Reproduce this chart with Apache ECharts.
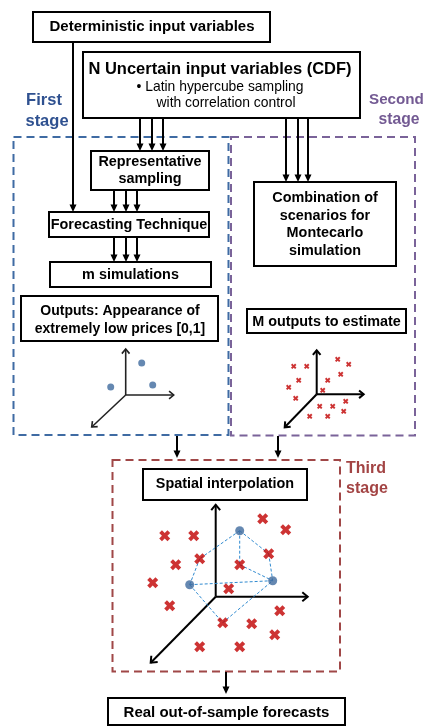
<!DOCTYPE html>
<html><head><meta charset="utf-8">
<script src="https://cdn.jsdelivr.net/npm/echarts@6/dist/echarts.min.js"></script>
<style>html,body{margin:0;padding:0;background:#fff}#c{width:425px;height:727px}</style>
</head><body><div id="c"></div>
<script>
// ---------------- data ----------------
// Stage 1 sketch: outputs in [0,1] (blue dots), local units relative to axes origin
const stage1Dots = [[16,32],[-15,8],[27,10]];
const stage1Axes = [[0,46],[48,0],[-34,-32]];
// Stage 2 sketch: M outputs to estimate (red crosses)
const stage2Crosses = [[21,35],[32,30],[-23,28],[-10,28],[24,20],[-18,14],[11,14],[-28,7],[6,4],[-21,-4],[29,-7],[3,-12],[16,-12],[27,-17],[-7,-22],[11,-22]];
const stage2Axes = [[0,44],[47,0],[-32,-33]];
// Stage 3 sketch: spatial interpolation
const stage3Crosses = [[47,78],[70,67],[-51,61],[-22,61],[53,43],[-16,38],[-40,32],[24,32],[-63,14],[13,8],[-46,-9],[64,-14],[7,-26],[36,-27],[59,-38],[-16,-50],[24,-50]];
const stage3Dots = [[24,66],[-26,12],[57,16]];
const stage3Axes = [[0,92],[92,0],[-65,-66]];
// mesh edges: D = dot index, X = cross index
const stage3Edges = [['D0','X5'],['X5','D1'],['D0','X4'],['X4','D2'],['D0','X7'],['X7','D2'],['D1','D2'],['D1','X12'],['X12','D2']];

// texts
const labelDeterministic = 'Deterministic input variables';
const labelUncertain = 'N Uncertain input variables (CDF)';
const labelUncertainSub = ['• Latin hypercube sampling', 'with correlation control'];
const labelRepr = ['Representative', 'sampling'];
const labelForecast = 'Forecasting Technique';
const labelMsim = 'm simulations';
const labelOutputs = ['Outputs: Appearance of', 'extremely low prices [0,1]'];
const labelCombination = ['Combination of', 'scenarios for', 'Montecarlo', 'simulation'];
const labelMout = 'M outputs to estimate';
const labelSpatial = 'Spatial interpolation';
const labelReal = 'Real out-of-sample forecasts';
const stageLabels = [['First','stage'],['Second','stage'],['Third','stage']];

// ---------------- styles / layout ----------------
const FONT = '"Liberation Sans", Arial, Helvetica, sans-serif';
const BLUE_STAGE = '#3F6BA3', PURPLE_STAGE = '#7A6399', RED_STAGE = '#A04747';
const BLUE_TXT = '#2F5190', PURPLE_TXT = '#735A93', RED_TXT = '#A34444';
const DOT = '#3F6A9E', CROSS = '#C00000', MESH = '#2F8AD0';
const XPATH = 'path://M0,2.5 L2.5,0 L5,2.5 L7.5,0 L10,2.5 L7.5,5 L10,7.5 L7.5,10 L5,7.5 L2.5,10 L0,7.5 L2.5,5 Z';

const G = [];
function rect(x,y,w,h,stroke,dash,lw){
  G.push({type:'rect', z:1, shape:{x:x,y:y,width:w,height:h},
    style:{fill: dash ? null : '#fff', stroke:stroke, lineWidth:lw||2, lineDash: dash||null}});
}
function text(s,x,y,size,bold,color,align){
  G.push({type:'text', z:5, style:{text:s, x:x, y:y, fill:color||'#000',
    font:(bold?'bold ':'')+size+'px '+FONT, textAlign:align||'center', textVerticalAlign:'middle'}});
}
function varrow(x,y1,y2){
  G.push({type:'line', z:2, shape:{x1:x,y1:y1,x2:x,y2:y2-5}, style:{stroke:'#000', lineWidth:2}});
  G.push({type:'polygon', z:2, shape:{points:[[x-3.5,y2-7.5],[x+3.5,y2-7.5],[x,y2]]}, style:{fill:'#000'}});
}

// stage containers
rect(13.5,137,215,298,BLUE_STAGE,[8,5]);
rect(231,137,184,298.5,PURPLE_STAGE,[8,5]);
rect(112.5,460,227.5,211.5,RED_STAGE,[8,5]);

// arrows
varrow(73,42,212);
[140,152,163].forEach(x=>varrow(x,118,151));
[286,298,308].forEach(x=>varrow(x,118,182));
[114,126,137].forEach(x=>varrow(x,190,212));
[114,126,137].forEach(x=>varrow(x,237,262));
varrow(177,436,458);
varrow(278,436,458);
varrow(226,672,694);

// boxes
rect(33,12,237,30,'#000');
rect(83,52,277,66,'#000');
rect(91,151,118,39,'#000');
rect(49,212,160,25,'#000');
rect(50,262,161,25,'#000');
rect(21,296,197,45,'#000');
rect(254,182,142,84,'#000');
rect(247,309,159,24,'#000');
rect(143,469,164,31,'#000');
rect(108,698,237,27,'#000');

// texts
text(labelDeterministic,152,27,15,true);
text(labelUncertain,220,69,16.5,true);
text(labelUncertainSub[0],220,87,13.9,false);
text(labelUncertainSub[1],226,103,13.9,false);
text(labelRepr[0],150,162,14.4,true);
text(labelRepr[1],150,179.5,14.4,true);
text(labelForecast,129,225,14.4,true);
text(labelMsim,130.5,275,14.4,true);
text(labelOutputs[0],120,311,14,true);
text(labelOutputs[1],120,329.5,14,true);
labelCombination.forEach((s,i)=>text(s,325,[198.5,216.5,233.5,251][i],14.4,true));
text(labelMout,326.5,322,14.4,true);
text(labelSpatial,225,484.5,14.4,true);
text(labelReal,226.5,713,15,true);
text(stageLabels[0][0],44,100,16.5,true,BLUE_TXT);
text(stageLabels[0][1],47,121,16.5,true,BLUE_TXT);
text(stageLabels[1][0],369,100,15.2,true,PURPLE_TXT,'left');
text(stageLabels[1][1],399,119.5,15.7,true,PURPLE_TXT);
text(stageLabels[2][0],346,468.5,16,true,RED_TXT,'left');
text(stageLabels[2][1],346,488.5,16,true,RED_TXT,'left');

// ---------------- sketch plots (hidden cartesian grids) ----------------
const plots = [
  {o:[125.7,395], r:50},
  {o:[316.7,394.3], r:50},
  {o:[215.7,596.7], r:100}
];
const grids = plots.map(p=>({left:p.o[0]-p.r, top:p.o[1]-p.r, width:2*p.r, height:2*p.r, show:false}));
const xAxes = plots.map((p,i)=>({type:'value', gridIndex:i, min:-p.r, max:p.r, show:false}));
const yAxes = plots.map((p,i)=>({type:'value', gridIndex:i, min:-p.r, max:p.r, show:false}));

function armRenderer(color, lw, head){
  return function(params, api){
    const o = api.coord([0,0]);
    const t = api.coord([api.value(0), api.value(1)]);
    const ang = Math.atan2(t[1]-o[1], t[0]-o[0]);
    const a1 = ang + Math.PI*0.78, a2 = ang - Math.PI*0.78;
    return {type:'group', children:[
      {type:'line', shape:{x1:o[0],y1:o[1],x2:t[0],y2:t[1]}, style:{stroke:color, lineWidth:lw}},
      {type:'polyline', shape:{points:[[t[0]+head*Math.cos(a1), t[1]+head*Math.sin(a1)], [t[0],t[1]], [t[0]+head*Math.cos(a2), t[1]+head*Math.sin(a2)]]},
        style:{stroke:color, lineWidth:lw, fill:null}}
    ]};
  };
}
function resolve(ref){
  const i = +ref.slice(1);
  return ref[0]==='D' ? stage3Dots[i] : stage3Crosses[i];
}
const meshData = stage3Edges.map(e=>{ const a=resolve(e[0]), b=resolve(e[1]); return [a[0],a[1],b[0],b[1]]; });

const series = [
  {type:'custom', xAxisIndex:0, yAxisIndex:0, data:stage1Axes, renderItem:armRenderer('#222',1.6,6), silent:true, z:3},
  {type:'scatter', xAxisIndex:0, yAxisIndex:0, data:stage1Dots, symbol:'circle', symbolSize:7, itemStyle:{color:DOT}, silent:true, z:4},
  {type:'custom', xAxisIndex:1, yAxisIndex:1, data:stage2Axes, renderItem:armRenderer('#000',2,6), silent:true, z:3},
  {type:'scatter', xAxisIndex:1, yAxisIndex:1, data:stage2Crosses, symbol:XPATH, symbolSize:5.5, itemStyle:{color:CROSS}, silent:true, z:4},
  {type:'custom', xAxisIndex:2, yAxisIndex:2, data:stage3Axes, renderItem:armRenderer('#000',2,7), silent:true, z:3},
  {type:'custom', xAxisIndex:2, yAxisIndex:2, data:meshData, silent:true, z:3,
    renderItem:function(params, api){
      const a = api.coord([api.value(0), api.value(1)]);
      const b = api.coord([api.value(2), api.value(3)]);
      return {type:'line', shape:{x1:a[0],y1:a[1],x2:b[0],y2:b[1]}, style:{stroke:MESH, lineWidth:1, lineDash:[3,2]}};
    }},
  {type:'scatter', xAxisIndex:2, yAxisIndex:2, data:stage3Dots, symbol:'circle', symbolSize:9, itemStyle:{color:DOT}, silent:true, z:4},
  {type:'scatter', xAxisIndex:2, yAxisIndex:2, data:stage3Crosses, symbol:XPATH, symbolSize:11, itemStyle:{color:CROSS}, silent:true, z:5}
];

const chart = echarts.init(document.getElementById('c'), null, {renderer:'canvas'});
chart.setOption({
  animation:false,
  backgroundColor:'#fff',
  grid:grids, xAxis:xAxes, yAxis:yAxes,
  graphic:{elements:G},
  series:series
});
</script></body></html>
